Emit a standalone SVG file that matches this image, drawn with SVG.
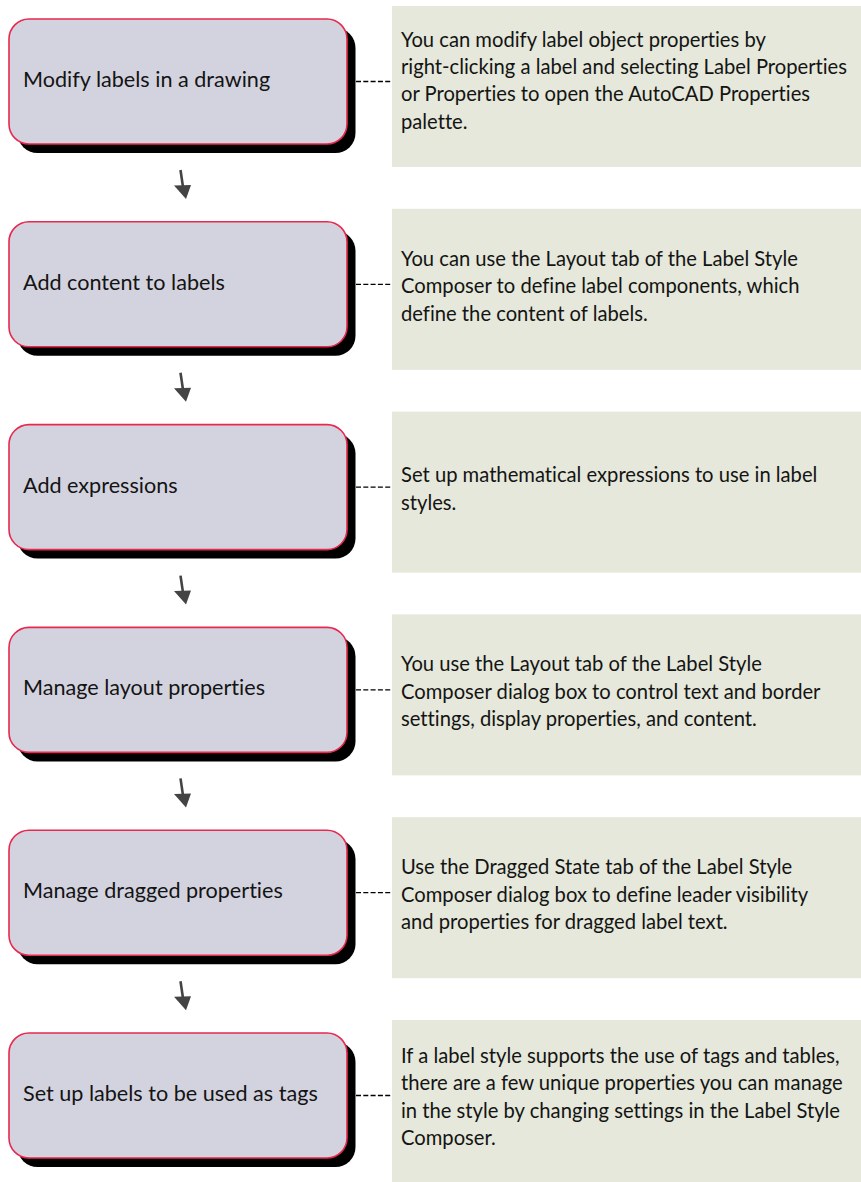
<svg xmlns="http://www.w3.org/2000/svg" width="861" height="1182" viewBox="0 0 861 1182">
<defs>
<style>
.shadow{fill:#000}
.node{fill:#d3d3df;stroke:#e8284e;stroke-width:1.6}
.nt{font-family:Lato,"Open Sans","Liberation Sans",sans-serif;font-size:21.6px;fill:#141414;font-variant-ligatures:none}
.box{fill:#e5e8da}
.it{font-family:Lato,"Open Sans","Liberation Sans",sans-serif;font-size:20.2px;fill:#141414;font-variant-ligatures:none}
.dash{stroke:#000;stroke-width:1.3;stroke-dasharray:5 2.3;fill:none}
.ashaft{stroke:#444;stroke-width:2.6;fill:none}
.ahead{fill:#444}
</style>
</defs>
<rect width="861" height="1182" fill="#fff"/>
<g id="info">
<g id="info1" transform="translate(0,6)">
<rect class="box" x="392" y="0" width="469" height="161"/>
<text class="it" x="401"><tspan x="401" y="40.5">You can modify label object properties by</tspan><tspan x="401" y="67.8">right-clicking a label and selecting Label Properties</tspan><tspan x="401" y="95.2">or Properties to open the AutoCAD Properties</tspan><tspan x="401" y="122.5">palette.</tspan></text>
</g>
<g id="info2" transform="translate(0,208.8)">
<rect class="box" x="392" y="0" width="469" height="161"/>
<text class="it"><tspan x="401" y="57">You can use the Layout tab of the Label Style</tspan><tspan x="401" y="84.4">Composer to define label components, which</tspan><tspan x="401" y="111.8">define the content of labels.</tspan></text>
</g>
<g id="info3" transform="translate(0,411.6)">
<rect class="box" x="392" y="0" width="469" height="161"/>
<text class="it"><tspan x="401" y="70.8">Set up mathematical expressions to use in label</tspan><tspan x="401" y="98.2">styles.</tspan></text>
</g>
<g id="info4" transform="translate(0,614.4)">
<rect class="box" x="392" y="0" width="469" height="161"/>
<text class="it"><tspan x="401" y="57">You use the Layout tab of the Label Style</tspan><tspan x="401" y="84.4">Composer dialog box to control text and border</tspan><tspan x="401" y="111.8">settings, display properties, and content.</tspan></text>
</g>
<g id="info5" transform="translate(0,817.2)">
<rect class="box" x="392" y="0" width="469" height="161"/>
<text class="it"><tspan x="401" y="57">Use the Dragged State tab of the Label Style</tspan><tspan x="401" y="84.4">Composer dialog box to define leader visibility</tspan><tspan x="401" y="111.8">and properties for dragged label text.</tspan></text>
</g>
<g id="info6" transform="translate(0,1020)">
<rect class="box" x="392" y="0" width="469" height="162"/>
<text class="it"><tspan x="401" y="43">If a label style supports the use of tags and tables,</tspan><tspan x="401" y="70.4">there are a few unique properties you can manage</tspan><tspan x="401" y="97.8">in the style by changing settings in the Label Style</tspan><tspan x="401" y="125.2">Composer.</tspan></text>
</g>
</g>
<g id="node1" transform="translate(0,19)">
<rect class="shadow" x="17.5" y="9" width="338" height="125" rx="20"/>
<rect class="node" x="9" y="0" width="338" height="125" rx="20"/>
<text class="nt" x="23" y="68">Modify labels in a drawing</text>
</g>
<g id="node2" transform="translate(0,221.8)">
<rect class="shadow" x="17.5" y="9" width="338" height="125" rx="20"/>
<rect class="node" x="9" y="0" width="338" height="125" rx="20"/>
<text class="nt" x="23" y="68">Add content to labels</text>
</g>
<g id="node3" transform="translate(0,424.6)">
<rect class="shadow" x="17.5" y="9" width="338" height="125" rx="20"/>
<rect class="node" x="9" y="0" width="338" height="125" rx="20"/>
<text class="nt" x="23" y="68">Add expressions</text>
</g>
<g id="node4" transform="translate(0,627.4)">
<rect class="shadow" x="17.5" y="9" width="338" height="125" rx="20"/>
<rect class="node" x="9" y="0" width="338" height="125" rx="20"/>
<text class="nt" x="23" y="68">Manage layout properties</text>
</g>
<g id="node5" transform="translate(0,830.2)">
<rect class="shadow" x="17.5" y="9" width="338" height="125" rx="20"/>
<rect class="node" x="9" y="0" width="338" height="125" rx="20"/>
<text class="nt" x="23" y="68">Manage dragged properties</text>
</g>
<g id="node6" transform="translate(0,1033)">
<rect class="shadow" x="17.5" y="9" width="338" height="125" rx="20"/>
<rect class="node" x="9" y="0" width="338" height="125" rx="20"/>
<text class="nt" x="23" y="68">Set up labels to be used as tags</text>
</g>
<g id="connectors">
<path class="dash" d="M356 81.5H391"/>
<path class="dash" d="M356 284.3H391"/>
<path class="dash" d="M356 487.1H391"/>
<path class="dash" d="M356 689.9H391"/>
<path class="dash" d="M356 892.7H391"/>
<path class="dash" d="M356 1095.5H391"/>
<g id="arrow1" transform="translate(0,0)"><path class="ashaft" d="M180.5 170L183 187"/><path class="ahead" d="M174 185.5L191 185L186 199Z"/></g>
<g id="arrow2" transform="translate(0,202.8)"><path class="ashaft" d="M180.5 170L183 187"/><path class="ahead" d="M174 185.5L191 185L186 199Z"/></g>
<g id="arrow3" transform="translate(0,405.6)"><path class="ashaft" d="M180.5 170L183 187"/><path class="ahead" d="M174 185.5L191 185L186 199Z"/></g>
<g id="arrow4" transform="translate(0,608.4)"><path class="ashaft" d="M180.5 170L183 187"/><path class="ahead" d="M174 185.5L191 185L186 199Z"/></g>
<g id="arrow5" transform="translate(0,811.2)"><path class="ashaft" d="M180.5 170L183 187"/><path class="ahead" d="M174 185.5L191 185L186 199Z"/></g>
</g>
</svg>
